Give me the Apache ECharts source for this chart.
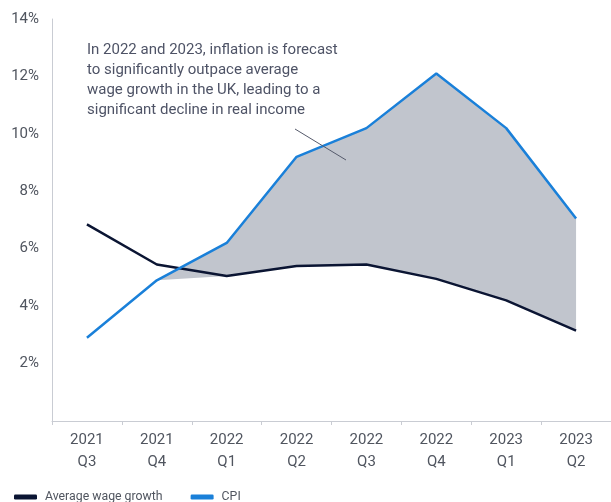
<!DOCTYPE html>
<html>
<head>
<meta charset="utf-8">
<script src="https://cdn.jsdelivr.net/npm/echarts@6/dist/echarts.min.js"></script>
<style>
  html,body{margin:0;padding:0;background:#fff;}
  #main{width:611px;height:502px;}
</style>
</head>
<body>
<div id="main"></div>
<script>
// quarters on the x axis
var quarters = ['2021\nQ3','2021\nQ4','2022\nQ1','2022\nQ2','2022\nQ3','2022\nQ4','2023\nQ1','2023\nQ2'];
// CPI inflation, %
var cpi = [2.9, 4.9, 6.2, 9.2, 10.2, 12.1, 10.2, 7.05];
// average wage growth, %
var wage = [6.85, 5.45, 5.05, 5.4, 5.45, 4.95, 4.2, 3.15];
// lower edge of the shaded gap (starts where CPI crosses wages)
var gapLow = [null, 4.9, 5.05, 5.4, 5.45, 4.95, 4.2, 3.15];
var yTicks = [0, 2, 4, 6, 8, 10, 12, 14];

var gapSize = cpi.map(function(v, i){ return gapLow[i] == null ? null : v - gapLow[i]; });

var chart = echarts.init(document.getElementById('main'));
var font = 'Roboto, "Liberation Sans", sans-serif';
var textCol = '#50555f';
var axisCol = '#c9ccd3';

var option = {
  animation: false,
  grid: {left: 52, width: 565, top: 19, bottom: 81},
  legend: {
    left: 9, top: 486,
    itemWidth: 23, itemHeight: 5, itemGap: 28,
    icon: 'roundRect',
    data: ['Average wage growth', 'CPI'],
    textStyle: {color: textCol, fontSize: 12.3, fontFamily: font, padding: [0,0,0,3]}
  },
  xAxis: {
    type: 'category',
    data: quarters,
    boundaryGap: true,
    axisLine: {lineStyle: {color: axisCol, width: 1}},
    axisTick: {show: true, interval: 0, length: 4, lineStyle: {color: axisCol}},
    axisLabel: {color: textCol, fontSize: 15, fontFamily: font, lineHeight: 22, margin: 8, interval: 0}
  },
  yAxis: {
    type: 'value',
    min: 0, max: 14, interval: 2,
    axisLine: {show: true, lineStyle: {color: axisCol, width: 1}},
    axisTick: {show: false},
    splitLine: {show: false},
    axisLabel: {
      color: textCol, fontSize: 15, fontFamily: font, margin: 13,
      formatter: function(v){ return (v === 0 || yTicks.indexOf(v) < 0) ? '' : v + '%'; }
    }
  },
  series: [
    {
      name: 'gapBase', type: 'line', stack: 'gap', data: gapLow,
      symbol: 'none', lineStyle: {opacity: 0}, silent: true
    },
    {
      name: 'gap', type: 'line', stack: 'gap', data: gapSize,
      symbol: 'none', lineStyle: {opacity: 0},
      areaStyle: {color: '#c1c5cd', opacity: 1}, silent: true
    },
    {
      name: 'Average wage growth', type: 'line', data: wage,
      symbol: 'none', color: '#0b1533',
      lineStyle: {width: 2.5, color: '#0b1533'}, z: 3
    },
    {
      name: 'CPI', type: 'line', data: cpi,
      symbol: 'none', color: '#1a80d9',
      lineStyle: {width: 2.5, color: '#1a80d9'}, z: 4
    }
  ],
  graphic: [
    {
      type: 'text', left: 87, top: 40,
      style: {
        text: 'In 2022 and 2023, inflation is forecast\nto significantly outpace average\nwage growth in the UK, leading to a\nsignificant decline in real income',
        fill: '#4e5366', fontSize: 15, fontFamily: font, lineHeight: 20
      }
    },
    {
      type: 'line', z: 10,
      shape: {x1: 295, y1: 129, x2: 346, y2: 160},
      style: {stroke: '#555a6b', lineWidth: 1}
    }
  ]
};
chart.setOption(option);
</script>
</body>
</html>
